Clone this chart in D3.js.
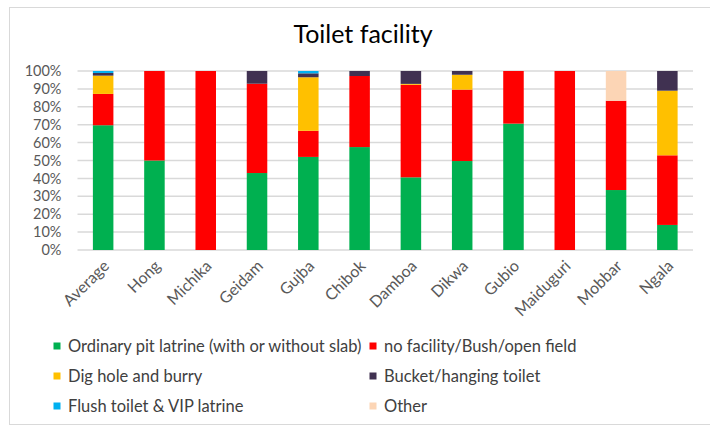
<!DOCTYPE html>
<html>
<head>
<meta charset="utf-8">
<script src="https://cdn.jsdelivr.net/npm/d3@7"></script>
<style>
  body { margin: 0; background: #fff; }
  text { font-family: Lato, "Liberation Sans", sans-serif; }
</style>
</head>
<body>
<svg id="chart" width="710" height="429"></svg>
<script>
var categories = ["Average", "Hong", "Michika", "Geidam", "Gujba", "Chibok", "Damboa", "Dikwa", "Gubio", "Maiduguri", "Mobbar", "Ngala"];
var seriesNames = ["Ordinary pit latrine (with or without slab)", "no facility/Bush/open field", "Dig hole and burry", "Bucket/hanging toilet", "Flush toilet & VIP latrine", "Other"];
var pitLatrine = [69.7, 50, 0, 43, 52, 57.5, 40.6, 49.7, 70.6, 0, 33.5, 14];
var noFacility = [17.5, 50, 100, 49.9, 14.6, 39.7, 51.7, 39.9, 29.4, 100, 49.9, 38.9];
var digHole = [10.2, 0, 0, 0, 29.9, 0, 0.5, 8.3, 0, 0, 0, 36.1];
var bucket = [1.5, 0, 0, 7.1, 2.2, 2.8, 7.2, 2.1, 0, 0, 0, 11];
var flush = [1.1, 0, 0, 0, 1.3, 0, 0, 0, 0, 0, 0, 0];
var other = [0, 0, 0, 0, 0, 0, 0, 0, 0, 0, 16.6, 0];
var yTicks = [0, 10, 20, 30, 40, 50, 60, 70, 80, 90, 100];
var colors = ["#00B050", "#FF0000", "#FFC000", "#403151", "#00B0F0", "#FCD5B5"];

var svg = d3.select("#chart");
var keys = ["pit", "none", "dig", "bucket", "flush", "other"];
var table = categories.map(function(c, i) {
  return { cat: c, pit: pitLatrine[i], none: noFacility[i], dig: digHole[i],
           bucket: bucket[i], flush: flush[i], other: other[i] };
});

// chart frame
svg.append("rect")
    .attr("x", 9.5).attr("y", 7.5)
    .attr("width", 710).attr("height", 417)
    .attr("fill", "#fff").attr("stroke", "#D9D9D9");

svg.append("text")
    .attr("x", 363).attr("y", 43)
    .attr("text-anchor", "middle")
    .attr("font-size", 25)
    .attr("fill", "#000")
    .text("Toilet facility");

var x = d3.scaleBand().domain(categories).range([77.5, 693]).paddingInner(0.6).paddingOuter(0.3);
var y = d3.scaleLinear().domain([0, 100]).range([250, 71]);

// gridlines
svg.append("g").selectAll("line")
    .data(yTicks)
  .enter().append("line")
    .attr("x1", 77.5).attr("x2", 693)
    .attr("y1", function(d) { return y(d); })
    .attr("y2", function(d) { return y(d); })
    .attr("stroke", "#D9D9D9").attr("stroke-width", 1.5);

var yAxis = svg.append("g")
    .attr("transform", "translate(77.5,0)")
    .call(d3.axisLeft(y).tickValues(yTicks).tickSize(0).tickPadding(16)
      .tickFormat(function(d) { return d + "%"; }));
yAxis.select(".domain").remove();
yAxis.selectAll("text").attr("font-size", 14.5).attr("fill", "#595959")
    .style("font-family", "Lato, 'Liberation Sans', sans-serif");

var stack = d3.stack().keys(keys);
svg.append("g").selectAll("g")
    .data(stack(table))
  .enter().append("g")
    .attr("fill", function(d, i) { return colors[i]; })
  .selectAll("rect")
    .data(function(d) { return d; })
  .enter().append("rect")
    .attr("x", function(d) { return x(d.data.cat); })
    .attr("width", x.bandwidth())
    .attr("y", function(d) { return y(d[1]); })
    .attr("height", function(d) { return y(d[0]) - y(d[1]); });

var xAxis = svg.append("g")
    .attr("transform", "translate(0,250)")
    .call(d3.axisBottom(x).tickSize(0).tickPadding(0));
xAxis.select(".domain").remove();
xAxis.selectAll("text")
    .attr("font-size", 16).attr("fill", "#595959")
    .style("font-family", "Lato, 'Liberation Sans', sans-serif")
    .attr("text-anchor", "end")
    .attr("dy", 0)
    .attr("transform", "translate(7,17) rotate(-45)");

// legend, two columns
var legend = svg.append("g").selectAll("g")
    .data(seriesNames)
  .enter().append("g")
    .attr("transform", function(d, i) {
      return "translate(" + (i % 2 === 0 ? 53.5 : 369.5) + "," + (346 + Math.floor(i / 2) * 30) + ")";
    });
legend.append("rect")
    .attr("x", 0).attr("y", -3.5)
    .attr("width", 7).attr("height", 7)
    .attr("fill", function(d, i) { return colors[i]; });
legend.append("text")
    .attr("x", 14.5).attr("y", 6)
    .attr("font-size", 16.5).attr("fill", "#404040")
    .text(function(d) { return d; });
</script>
</body>
</html>
